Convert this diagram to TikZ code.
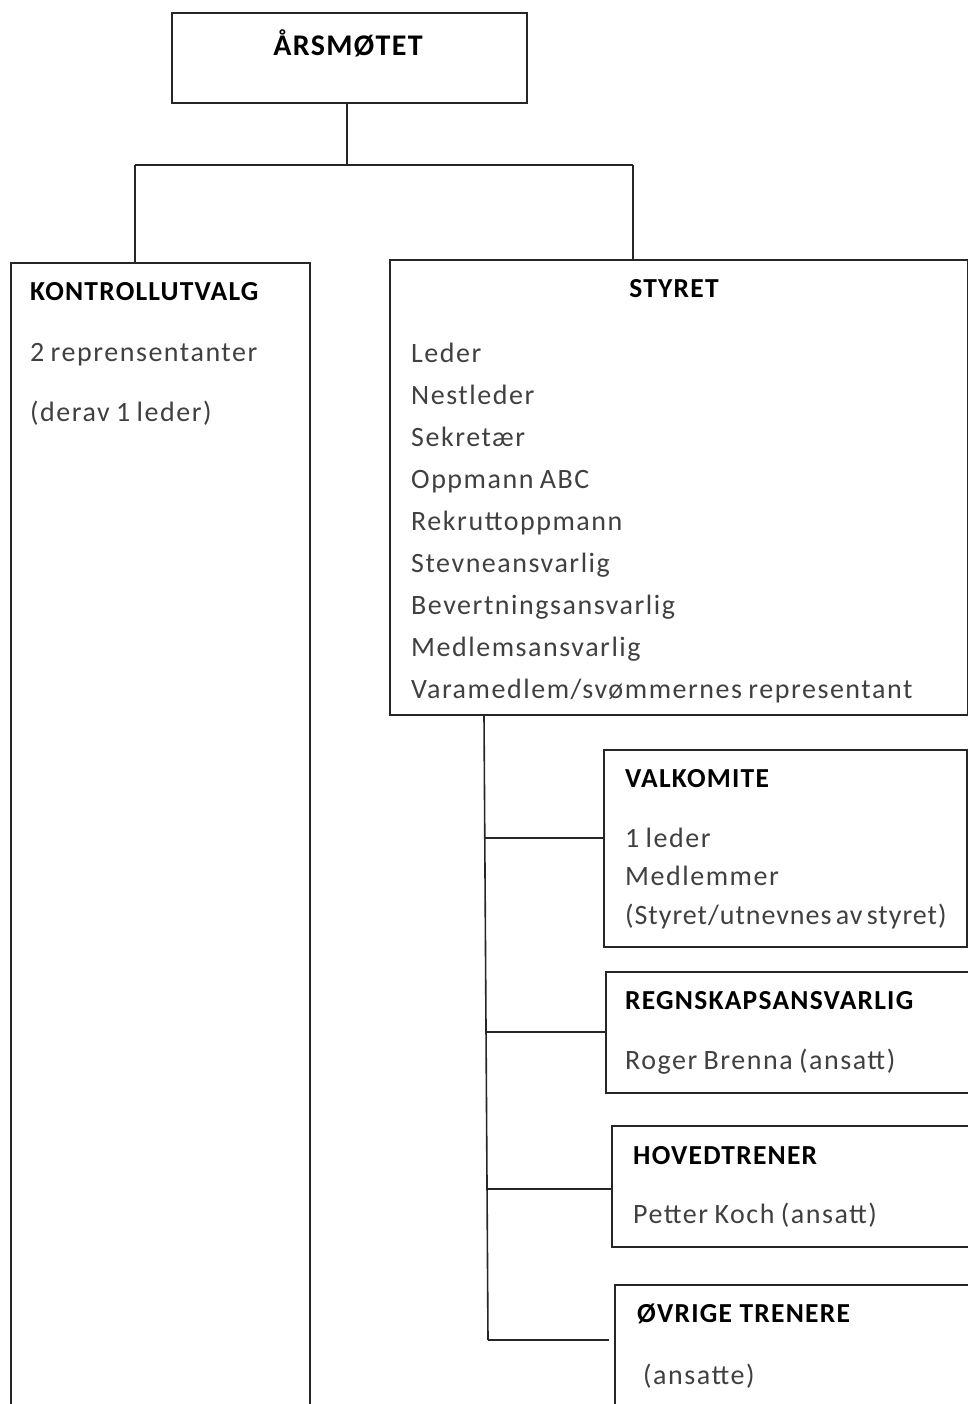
\documentclass[tikz,border=0pt]{standalone}
\usepackage{fontspec}
\setmainfont{Carlito}
\newfontfamily\bodyfont[LetterSpace=5.5,WordSpace=0.8]{Carlito}
\newfontfamily\tightbodyfont[LetterSpace=3.5,WordSpace=0.6]{Carlito}
\newfontfamily\titlefont[LetterSpace=4.5]{Carlito Bold}
\begin{document}
\begin{tikzpicture}[x=1pt,y=-1pt,
  box/.style={draw=black!85, line width=1.6pt, anchor=north west, inner sep=0pt},
  conn/.style={draw=black!85, line width=1.6pt},
  ttl/.style={anchor=base west, inner sep=0pt, text=black, font=\titlefont\fontsize{27.5}{32}\selectfont},
  body/.style={anchor=base west, inner sep=0pt, text=black!75, font=\bodyfont\fontsize{28}{34}\selectfont}]
\useasboundingbox (0,0) rectangle (968,1404);
\clip (0,0) rectangle (968,1404);
% boxes
\node[box, minimum width=355pt, minimum height=90pt] (aars) at (171,12) {};
\node[box, minimum width=299pt, minimum height=1300pt] (kontr) at (10,262) {};
\node[box, minimum width=578pt, minimum height=455pt] (styret) at (389,259) {};
\node[box, minimum width=363pt, minimum height=197pt] (valk) at (603,749) {};
\node[box, minimum width=400pt, minimum height=121pt] (regn) at (605,971) {};
\node[box, minimum width=400pt, minimum height=121pt] (hoved) at (611,1125) {};
\node[box, minimum width=400pt, minimum height=300pt] (ovrige) at (614,1284) {};
% texts
\node[ttl, anchor=base, font=\titlefont\fontsize{30}{34}\selectfont] (taars) at (348,56) {ÅRSMØTET};
\node[ttl] (tkontr) at (30,301) {KONTROLLUTVALG};
\node[body] (k1) at (30,361) {2 reprensentanter};
\node[body] (k2) at (30,421) {(derav 1 leder)};
\node[ttl, anchor=base] (tstyret) at (674,298) {STYRET};
\foreach \t [count=\i from 0] in {Leder,Nestleder,Sekretær,Oppmann ABC,Rekruttoppmann,Stevneansvarlig,Bevertningsansvarlig,Medlemsansvarlig,Varamedlem/svømmernes representant}
  \node[body] (s\i) at (411,362+42*\i) {\t};
\node[ttl] (tvalk) at (625,787) {VALKOMITE};
\node[body] (v1) at (625,847) {1 leder};
\node[body] (v2) at (625,885) {Medlemmer};
\node[body, font=\tightbodyfont\fontsize{28}{34}\selectfont] (v3) at (625,924) {(Styret/utnevnes av styret)};
\node[ttl] (tregn) at (625,1009) {REGNSKAPSANSVARLIG};
\node[body] (r1) at (625,1069) {Roger Brenna (ansatt)};
\node[ttl] (thoved) at (633,1164) {HOVEDTRENER};
\node[body] (h1) at (633,1223) {Petter Koch (ansatt)};
\node[ttl] (tovrige) at (637,1322) {ØVRIGE TRENERE};
\node[body] (o1) at (643,1384) {(ansatte)};
% connectors
\coordinate (bus) at (347,165);
\coordinate (busL) at (135,165);
\coordinate (busR) at (633,165);
\draw[conn] (aars.south -| bus) -- (bus);
\draw[conn] (busL) -- (busR);
\draw[conn] (busL) -- (busL |- kontr.north);
\draw[conn] (busR) -- (busR |- styret.north);
\coordinate (trunk) at (484,714);
\coordinate (b1) at (485,838);
\coordinate (b2) at (486,1032);
\coordinate (b3) at (487,1189);
\coordinate (b4) at (488,1340);
\draw[conn] (trunk |- styret.south) -- (b4);
\draw[conn] (b1) -- (b1 -| valk.west);
\draw[conn] (b2) -- (b2 -| regn.west);
\draw[conn] (b3) -- (b3 -| hoved.west);
\draw[conn] (b4) -- (609,1340);
\end{tikzpicture}
\end{document}
